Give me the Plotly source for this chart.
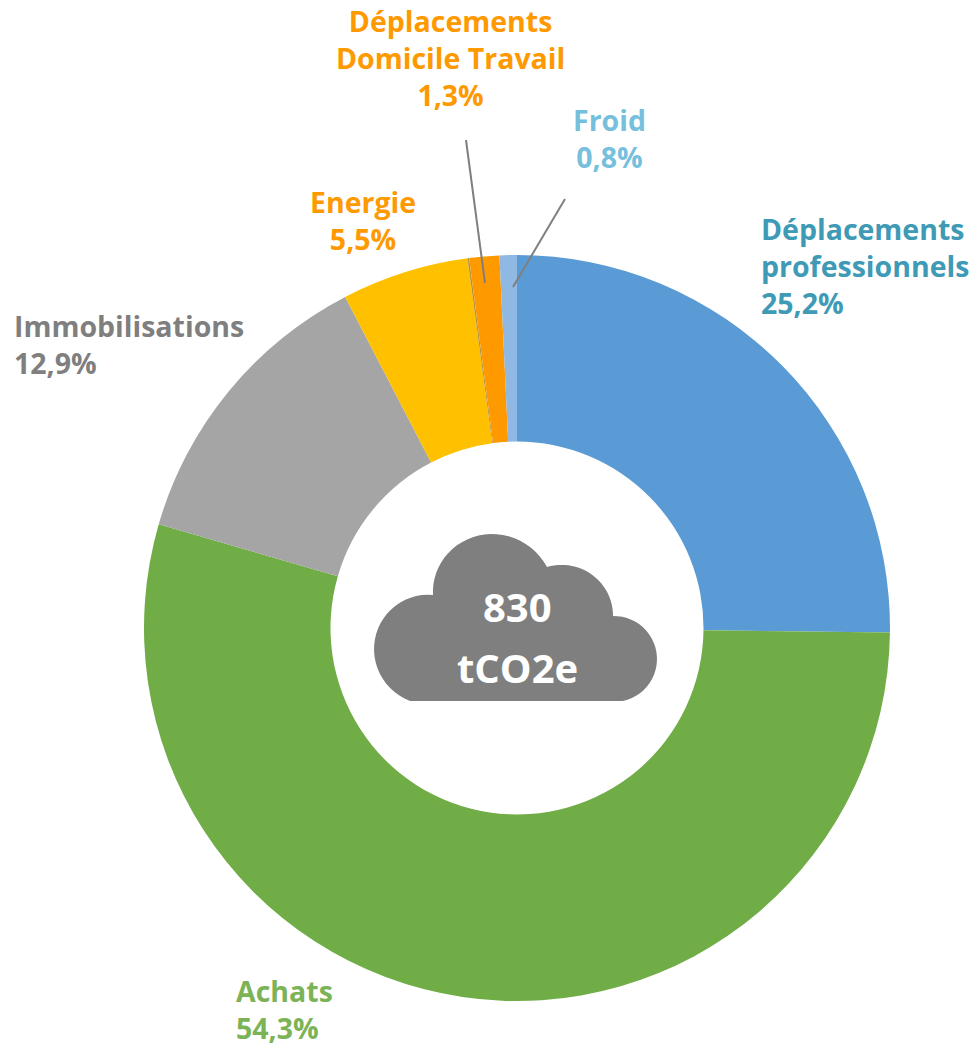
import numpy as np
import plotly.graph_objects as go

W, H = 975, 1046

categories = ["Déplacements professionnels", "Achats", "Immobilisations", "Energie", "Autre",
              "Déplacements Domicile Travail", "Froid"]
values = [25.2, 54.3, 12.9, 5.5, 0.07, 1.3, 0.75]
colors = ["#5B9BD5", "#70AD47", "#A5A5A5", "#FFC000", "#B8913A", "#FF9900", "#8FB9E3"]

label_texts = ["Déplacements<br>professionnels<br>25,2%", "Achats<br>54,3%", "Immobilisations<br>12,9%",
               "Energie<br>5,5%", "Déplacements<br>Domicile Travail<br>1,3%", "Froid<br>0,8%"]
label_colors = ["#3E9AB5", "#7CB356", "#7F7F7F", "#FF9900", "#FF9900", "#76C0DD"]
label_x = [760, 235, 13, 363, 450, 609]
label_top = [209, 971, 306, 182, 1, 100]
label_anchor = ["left", "left", "left", "center", "center", "center"]
label_align = ["left", "left", "left", "center", "center", "center"]

center_lines = ["830", "tCO2e"]
center_y = [606, 667]
FONT = "Open Sans"


def px(x):
    return x / W


def py(y):
    return 1 - y / H


def arc(cx, cy, start, end, n=28):
    a0 = np.arctan2(start[1] - cy, start[0] - cx)
    a1 = np.arctan2(end[1] - cy, end[0] - cx)
    while a1 < a0:
        a1 += 2 * np.pi
    r0 = np.hypot(start[0] - cx, start[1] - cy)
    r1 = np.hypot(end[0] - cx, end[1] - cy)
    t = np.linspace(0, 1, n)
    a = a0 + (a1 - a0) * t
    r = r0 + (r1 - r0) * t
    return list(zip(cx + r * np.cos(a), cy + r * np.sin(a)))


cloud = (arc(429, 648, (410, 701), (433, 595)) + arc(489, 595, (433, 595), (547, 567))
         + arc(563, 617, (547, 567), (613, 616)) + arc(614, 659, (613, 616), (623, 701)))
cloud_path = "M " + " L ".join(f"{px(x):.5f},{py(y):.5f}" for x, y in cloud) + " Z"

fig = go.Figure(go.Pie(
    labels=categories, values=values, hole=0.5, sort=False, direction="clockwise", rotation=0,
    marker=dict(colors=colors, line=dict(width=0)), textinfo="none", hoverinfo="skip",
    domain=dict(x=[px(144), px(890)], y=[py(1001), py(255)]), showlegend=False,
))

shapes = [
    dict(type="path", path=cloud_path, xref="paper", yref="paper", fillcolor="#7F7F7F", line=dict(width=0)),
    dict(type="line", xref="paper", yref="paper", x0=px(466), y0=py(140), x1=px(485), y1=py(283),
         line=dict(color="#7F7F7F", width=2)),
    dict(type="line", xref="paper", yref="paper", x0=px(565), y0=py(199), x1=px(513), y1=py(287),
         line=dict(color="#7F7F7F", width=2)),
]

annotations = [
    dict(text=t, x=px(x), y=py(y), xref="paper", yref="paper", xanchor=a, yanchor="top", align=al,
         showarrow=False, borderpad=0, font=dict(family=FONT, size=28.5, color=c, weight="bold"))
    for t, x, y, a, al, c in zip(label_texts, label_x, label_top, label_anchor, label_align, label_colors)
]
for line, y in zip(center_lines, center_y):
    annotations.append(dict(text=line, x=px(517), y=py(y), xref="paper", yref="paper",
                            xanchor="center", yanchor="middle", align="center", showarrow=False,
                            font=dict(family=FONT, size=40, color="white", weight="bold")))

fig.update_layout(width=W, height=H, margin=dict(l=0, r=0, t=0, b=0), paper_bgcolor="white",
                  shapes=shapes, annotations=annotations)

fig.write_html("out.html", config=dict(displayModeBar=False),
               post_script="document.body.style.margin='0';")
